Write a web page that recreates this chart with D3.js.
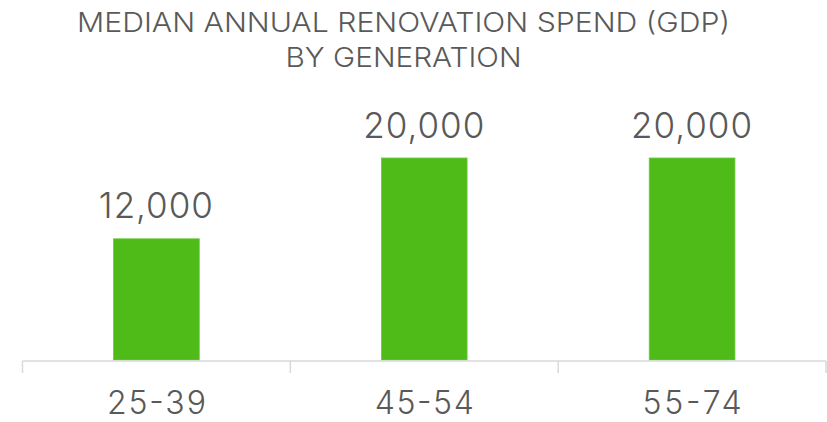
<!DOCTYPE html>
<html><head><meta charset="utf-8">
<script src="https://cdn.jsdelivr.net/npm/d3@7"></script>
<style>html,body{margin:0;padding:0;background:#fff;}svg{display:block;}</style>
</head><body>
<svg id="chart" width="827" height="422"></svg>
<script>
const categories = ["25-39", "45-54", "55-74"];
const values = [12000, 20000, 20000];
const titleLines = ["MEDIAN ANNUAL RENOVATION SPEND (GDP)", "BY GENERATION"];

const svg = d3.select("#chart");
const textColor = "#595959";
const barColor = "#4EBB18";

const x = d3.scaleBand().domain(categories).range([22.5, 826]).paddingInner(0.68).paddingOuter(0.34);
const y = d3.scaleLinear().domain([0, 25000]).range([360, 107.5]);

// title
const titleWidths = [653, 236];
const titleBase = [32, 67];
svg.selectAll("text.title").data(titleLines).enter().append("text")
  .attr("class", "title")
  .attr("x", 403.5).attr("y", (d, i) => titleBase[i])
  .attr("text-anchor", "middle")
  .attr("font-family", "Inter, 'Liberation Sans', sans-serif")
  .attr("font-weight", 300)
  .attr("font-size", 27)
  .attr("fill", textColor)
  .attr("textLength", (d, i) => titleWidths[i])
  .attr("lengthAdjust", "spacingAndGlyphs")
  .text(d => d);

// bars
svg.selectAll("rect.bar").data(values).enter().append("rect")
  .attr("class", "bar")
  .attr("x", (d, i) => x(categories[i]))
  .attr("width", x.bandwidth())
  .attr("y", d => y(d))
  .attr("height", d => y(0) - y(d))
  .attr("fill", barColor)
  .attr("stroke", "#6CC93F")
  .attr("stroke-width", 0.8);

// data labels
const fmt = d3.format(",");
svg.selectAll("text.val").data(values).enter().append("text")
  .attr("class", "val")
  .attr("x", (d, i) => x(categories[i]) + x.bandwidth() / 2)
  .attr("y", d => y(d) - 20.5)
  .attr("text-anchor", "middle")
  .attr("font-family", "Inter, 'DejaVu Sans', sans-serif")
  .attr("font-weight", 300)
  .attr("font-size", 35)
  .attr("letter-spacing", 1)
  .attr("fill", textColor)
  .text(d => fmt(d));

// axis line and ticks at band boundaries
const axisY = 361;
const r = x.range();
svg.append("line")
  .attr("x1", r[0]).attr("x2", r[1])
  .attr("y1", axisY).attr("y2", axisY)
  .attr("stroke", "#D9D9D9").attr("stroke-width", 1.5);
const bounds = d3.range(categories.length + 1).map(i => r[0] + i * x.step());
svg.selectAll("line.tick").data(bounds).enter().append("line")
  .attr("class", "tick")
  .attr("x1", d => d).attr("x2", d => d)
  .attr("y1", axisY).attr("y2", axisY + 12)
  .attr("stroke", "#D9D9D9").attr("stroke-width", 1.5);

// category labels
svg.selectAll("text.cat").data(categories).enter().append("text")
  .attr("class", "cat")
  .attr("x", d => x(d) + x.bandwidth() / 2)
  .attr("y", 414)
  .attr("text-anchor", "middle")
  .attr("font-family", "Inter, 'DejaVu Sans', sans-serif")
  .attr("font-weight", 300)
  .attr("font-size", 32)
  .attr("fill", textColor)
  .attr("textLength", 99)
  .attr("lengthAdjust", "spacing")
  .text(d => d);
</script>
</body></html>
